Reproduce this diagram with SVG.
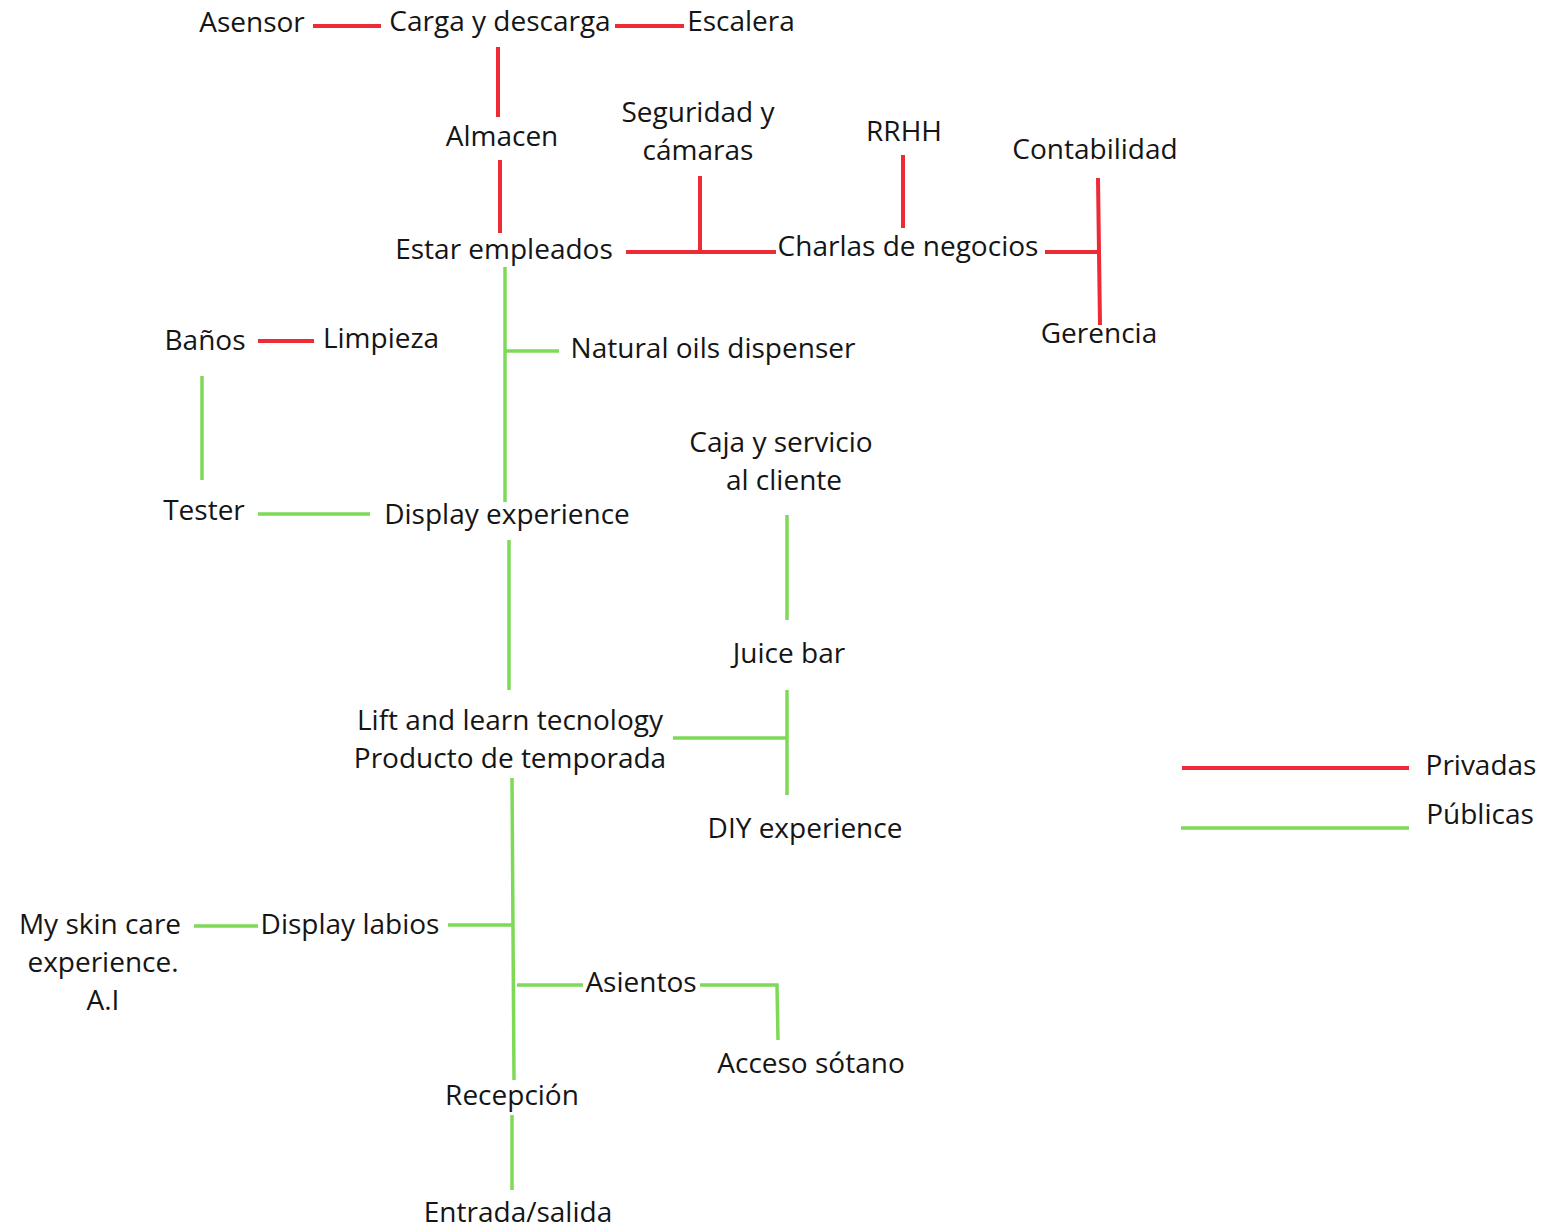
<svg xmlns="http://www.w3.org/2000/svg" width="1545" height="1230" viewBox="0 0 1545 1230">
<style>
text{font-family:"Open Sans","Noto Sans","Liberation Sans",sans-serif;font-size:28px;fill:#151515;text-anchor:middle}
.r{stroke:#ee2a35;stroke-width:4;fill:none}
.g{stroke:#7ed957;stroke-width:3.5;fill:none}
</style>
<rect width="1545" height="1230" fill="#fff"/>
<g id="connectors">
<line class="r" x1="313" y1="26" x2="381" y2="26"/>
<line class="r" x1="615" y1="26" x2="684" y2="26"/>
<line class="r" x1="498" y1="47" x2="498" y2="117"/>
<line class="r" x1="500" y1="160" x2="500" y2="233"/>
<line class="r" x1="626" y1="252" x2="776" y2="252"/>
<line class="r" x1="700" y1="176" x2="700" y2="252"/>
<line class="r" x1="903" y1="155" x2="903" y2="228"/>
<line class="r" x1="1045" y1="252" x2="1098" y2="252"/>
<line class="r" x1="1098" y1="178" x2="1100" y2="325"/>
<line class="r" x1="258" y1="341" x2="314" y2="341"/>
<line class="g" x1="505" y1="267" x2="505" y2="502"/>
<line class="g" x1="505" y1="351" x2="559" y2="351"/>
<line class="g" x1="202" y1="376" x2="202" y2="480"/>
<line class="g" x1="258" y1="514" x2="370" y2="514"/>
<line class="g" x1="509" y1="540" x2="509" y2="690"/>
<line class="g" x1="787" y1="515" x2="787" y2="620"/>
<line class="g" x1="787" y1="690" x2="787" y2="795"/>
<line class="g" x1="673" y1="738" x2="787" y2="738"/>
<line class="g" x1="512" y1="778" x2="514" y2="1080"/>
<line class="g" x1="448" y1="925" x2="513" y2="925"/>
<line class="g" x1="194" y1="926" x2="258" y2="926"/>
<line class="g" x1="517" y1="985" x2="583" y2="985"/>
<polyline class="g" points="700,985 777,985 778,1040"/>
<line class="g" x1="512" y1="1115" x2="512" y2="1190"/>
</g>
<g id="legend">
<line class="r" x1="1182" y1="768" x2="1409" y2="768"/>
<line class="g" x1="1181" y1="828" x2="1409" y2="828"/>
<text x="1481" y="775">Privadas</text>
<text x="1480" y="824">Públicas</text>
</g>
<g id="asensor"><text x="252" y="32">Asensor</text></g>
<g id="carga"><text x="500" y="31">Carga y descarga</text></g>
<g id="escalera"><text x="741" y="31">Escalera</text></g>
<g id="almacen"><text x="502" y="146">Almacen</text></g>
<g id="seguridad"><text x="698" y="122">Seguridad y</text><text x="698" y="160">cámaras</text></g>
<g id="rrhh"><text x="904" y="141">RRHH</text></g>
<g id="contabilidad"><text x="1095" y="159">Contabilidad</text></g>
<g id="estar"><text x="504" y="259">Estar empleados</text></g>
<g id="charlas"><text x="908" y="256">Charlas de negocios</text></g>
<g id="gerencia"><text x="1099" y="343">Gerencia</text></g>
<g id="banos"><text x="205" y="350">Baños</text></g>
<g id="limpieza"><text x="381" y="348">Limpieza</text></g>
<g id="natural"><text x="713" y="358">Natural oils dispenser</text></g>
<g id="caja"><text x="781" y="452">Caja y servicio</text><text x="784" y="490">al cliente</text></g>
<g id="tester"><text x="204" y="520">Tester</text></g>
<g id="display"><text x="507" y="524">Display experience</text></g>
<g id="juice"><text x="789" y="663">Juice bar</text></g>
<g id="lift"><text x="510" y="730">Lift and learn tecnology</text><text x="510" y="768">Producto de temporada</text></g>
<g id="diy"><text x="805" y="838">DIY experience</text></g>
<g id="myskin"><text x="100" y="934">My skin care</text><text x="103" y="972">experience.</text><text x="103" y="1010">A.I</text></g>
<g id="labios"><text x="350" y="934">Display labios</text></g>
<g id="asientos"><text x="641" y="992">Asientos</text></g>
<g id="acceso"><text x="811" y="1073">Acceso sótano</text></g>
<g id="recepcion"><text x="512" y="1105">Recepción</text></g>
<g id="entrada"><text x="518" y="1222">Entrada/salida</text></g>
</svg>
